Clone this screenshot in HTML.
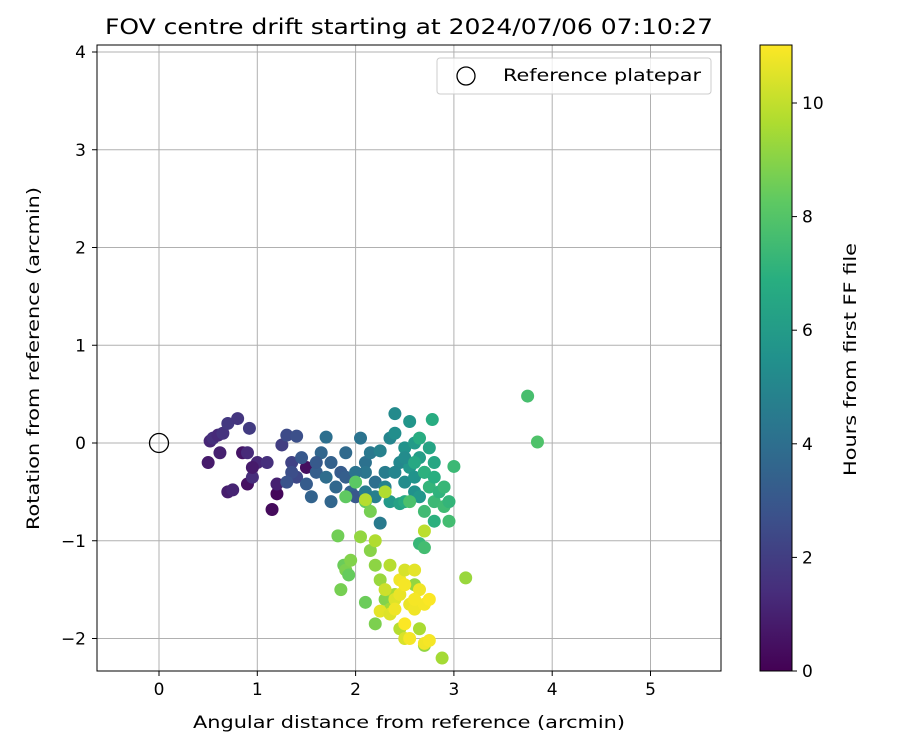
<!DOCTYPE html>
<html><head><meta charset="utf-8"><style>
body{margin:0;background:#fff}
svg text{font-family:"DejaVu Sans","Liberation Sans",sans-serif}
</style></head><body>
<svg id="chart" width="900" height="750" xmlns="http://www.w3.org/2000/svg">
<defs>
<linearGradient id="vir" x1="0" y1="1" x2="0" y2="0">
<stop offset="0" stop-color="#440154"/><stop offset="0.125" stop-color="#472d7b"/><stop offset="0.25" stop-color="#3b528b"/><stop offset="0.375" stop-color="#2c728e"/><stop offset="0.5" stop-color="#21918c"/><stop offset="0.625" stop-color="#28ae80"/><stop offset="0.75" stop-color="#5ec962"/><stop offset="0.875" stop-color="#addc30"/><stop offset="1" stop-color="#fde725"/>
</linearGradient>
<clipPath id="pc"><rect x="97" y="45" width="624" height="626"/></clipPath>
</defs>
<text x="105" y="34" font-size="21" textLength="608" lengthAdjust="spacingAndGlyphs">FOV centre drift starting at 2024/07/06 07:10:27</text>
<g id="grid"></g>
<g id="points" clip-path="url(#pc)"></g>
<rect x="97" y="45" width="624" height="626" fill="none" stroke="#000" stroke-width="1"/>
<g id="ticks"></g>
<text x="193" y="728" font-size="17" textLength="432" lengthAdjust="spacingAndGlyphs">Angular distance from reference (arcmin)</text>
<text transform="translate(39,530) rotate(-90)" font-size="17" textLength="343" lengthAdjust="spacingAndGlyphs">Rotation from reference (arcmin)</text>
<g>
<rect x="437" y="58" width="274" height="36" rx="3" fill="#fff" fill-opacity="0.8" stroke="#ccc"/>
<circle cx="466" cy="76" r="9" fill="none" stroke="#000" stroke-width="1.3"/>
<text x="503" y="81" font-size="17" textLength="198" lengthAdjust="spacingAndGlyphs">Reference platepar</text>
</g>
<rect x="760" y="45" width="32" height="626" fill="url(#vir)" stroke="#000"/>
<g id="cbticks"></g>
<text transform="translate(856,476) rotate(-90)" font-size="17" textLength="233" lengthAdjust="spacingAndGlyphs">Hours from first FF file</text>
</svg>
<script>
const xTicks=[0,1,2,3,4,5];
const yTicks=[-2,-1,0,1,2,3,4];
const cbTicks=[0,2,4,6,8,10];
const xs=[0.5,0.52,0.55,0.6,0.62,0.65,0.7,0.7,0.75,0.8,0.85,0.9,0.92,0.95,1.0,1.1,1.15,1.2,1.2,1.5,0.9,0.95,
1.25,1.3,1.35,1.4,1.4,1.45,1.5,1.55,1.6,1.65,1.7,1.75,1.8,1.85,1.9,1.95,2.0,1.35,1.3,1.6,1.7,1.75,1.9,2.05,2.1,
2.1,2.15,2.2,2.25,2.25,2.3,2.35,2.4,2.4,2.45,2.5,2.5,2.55,2.55,2.6,2.6,2.65,2.7,2.75,2.35,2.45,2.2,2.3,2.4,2.5,2.6,2.65,2.8,2.1,2.0,
2.65,2.7,2.75,2.8,2.8,2.85,2.9,2.9,2.95,2.95,3.0,2.78,2.8,2.6,2.5,2.55,2.65,2.7,3.75,3.85,2.7,
1.82,1.85,1.88,1.9,1.93,1.95,2.0,2.05,2.1,2.1,2.15,2.2,2.2,2.25,2.3,2.4,2.35,2.45,2.5,2.65,2.7,2.88,3.12,2.6,1.9,2.15,
2.1,2.2,2.25,2.3,2.35,2.4,2.45,2.5,2.5,2.55,2.55,2.6,2.6,2.65,2.7,2.75,2.7,2.75,2.7,2.45,2.35,2.3,2.5,2.6,2.4];
const ys=[-0.2,0.02,0.05,0.08,-0.1,0.1,0.2,-0.5,-0.48,0.25,-0.1,-0.42,0.15,-0.35,-0.2,-0.2,-0.68,-0.52,-0.42,-0.25,-0.1,-0.25,
-0.02,0.08,-0.2,0.07,-0.35,-0.15,-0.42,-0.55,-0.3,-0.1,0.06,-0.2,-0.45,-0.3,-0.1,-0.5,-0.55,-0.3,-0.4,-0.2,-0.35,-0.6,-0.35,0.05,-0.2,
-0.3,-0.1,-0.4,-0.08,-0.82,-0.3,0.05,0.3,0.1,-0.2,-0.05,-0.4,-0.25,0.22,0.0,-0.5,-0.15,-0.3,-0.05,-0.6,-0.62,-0.55,-0.45,-0.3,-0.15,-0.35,-0.55,-0.2,-0.5,-0.3,
0.05,-0.3,-0.45,-0.6,-0.35,-0.5,-0.45,-0.65,-0.6,-0.8,-0.24,0.24,-0.8,-0.2,-0.6,-0.6,-1.03,-1.07,0.48,0.01,-0.7,
-0.95,-1.5,-1.25,-1.3,-1.35,-1.2,-0.4,-0.96,-0.6,-1.63,-1.1,-1.25,-1.85,-1.4,-1.6,-1.55,-1.7,-1.9,-2.0,-1.9,-2.07,-2.2,-1.38,-1.45,-0.55,-0.7,
-0.58,-1.0,-1.72,-1.5,-1.25,-1.6,-1.4,-1.3,-1.85,-1.65,-2.0,-1.7,-1.3,-1.5,-1.65,-1.6,-2.05,-2.02,-0.9,-1.55,-1.75,-0.5,-1.45,-1.6,-1.7];
const hrs=[0.8,1.2,1.5,1.3,1.0,1.6,1.8,0.9,1.1,1.7,0.6,0.5,1.9,1.4,1.2,1.5,0.3,0.2,1.0,0.4,1.3,0.8,
2.0,2.5,2.2,2.7,2.4,3.0,3.2,3.5,3.3,3.6,4.0,3.4,3.7,3.2,3.8,3.5,3.0,2.6,2.8,3.1,3.9,3.6,3.3,4.2,4.1,
4.3,4.4,4.0,4.8,4.5,4.6,5.0,5.2,5.4,5.1,5.6,5.3,5.8,5.7,6.0,5.5,6.1,6.2,6.4,5.9,6.3,4.7,4.9,5.0,5.3,5.6,5.8,6.5,4.6,4.2,
6.8,7.0,7.2,7.4,6.9,7.1,7.3,7.5,7.2,7.6,7.4,6.8,7.0,6.6,6.7,7.8,7.3,7.6,7.7,7.9,7.5,
8.6,8.7,8.5,8.8,8.4,8.9,8.2,9.2,8.3,8.5,9.0,9.1,8.8,9.3,8.9,9.6,9.4,9.8,10.4,9.6,9.2,9.5,9.3,9.2,8.3,8.7,
9.8,9.7,10.6,10.2,9.8,10.5,10.8,10.4,11.0,10.7,10.9,10.8,10.6,10.8,10.9,11.0,10.8,10.9,9.9,10.7,10.5,9.7,10.9,10.9,10.8];
const X=v=>159+v*98.3, Y=v=>443-v*97.75, CB=v=>671-v*56.8;
const vir=[[68,1,84],[71,45,123],[59,82,139],[44,114,142],[33,145,140],[40,174,128],[94,201,98],[173,220,48],[253,231,37]];
function col(h){let t=Math.max(0,Math.min(1,h/11.03))*8,i=Math.min(7,Math.floor(t)),f=t-i;const a=vir[i],b=vir[i+1];
return 'rgb('+a.map((c,k)=>Math.round(c+(b[k]-c)*f)).join(',')+')';}
const NS='http://www.w3.org/2000/svg';
function mk(tag,attrs,parent,txt){const e=document.createElementNS(NS,tag);for(const k in attrs)e.setAttribute(k,attrs[k]);if(txt!==undefined)e.textContent=txt;parent.appendChild(e);return e;}
const grid=document.getElementById('grid'),ticks=document.getElementById('ticks');
xTicks.forEach(v=>{
const l=mk('line',{x1:X(v),x2:X(v),y1:45,y2:671,stroke:'#b0b0b0','stroke-width':1},grid);


mk('line',{x1:X(v),x2:X(v),y1:671,y2:676,stroke:'#000'},ticks);
const t=mk('text',{x:X(v),y:695,'font-size':17,'text-anchor':'middle'},ticks,String(v));


});
yTicks.forEach(v=>{
const l=mk('line',{x1:97,x2:721,y1:Y(v),y2:Y(v),stroke:'#b0b0b0','stroke-width':1},grid);


mk('line',{x1:92,x2:97,y1:Y(v),y2:Y(v),stroke:'#000'},ticks);
const t=mk('text',{x:86,y:Y(v)+6,'font-size':17,'text-anchor':'end'},ticks,v<0?'\u2212'+(-v):String(v));


});
const cbt=document.getElementById('cbticks');
cbTicks.forEach(v=>{
mk('line',{x1:792,x2:797,y1:CB(v),y2:CB(v),stroke:'#000'},cbt);
const t=mk('text',{x:802,y:CB(v)+6,'font-size':17},cbt,String(v));


});
const pts=document.getElementById('points');
xs.forEach((x,i)=>{
const c=mk('circle',{cx:X(x),cy:Y(ys[i]),r:6.5,fill:col(hrs[i])},pts);


});
const ref=mk('circle',{cx:X(0),cy:Y(0),r:9.5,fill:'none',stroke:'#000','stroke-width':1.3},pts);


</script>
</body></html>
